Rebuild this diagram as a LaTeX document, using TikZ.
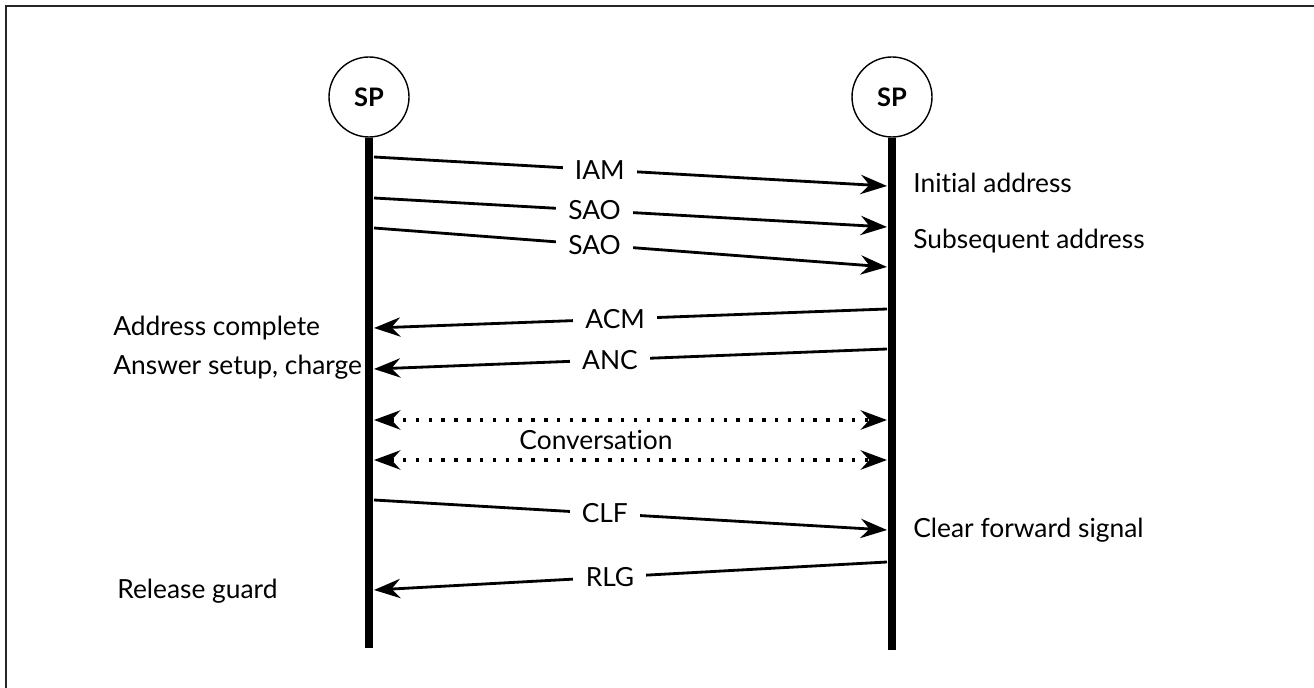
\documentclass[tikz,border=0pt]{standalone}
\usepackage{fontspec}
\setmainfont{Lato}[Ligatures=NoCommon]
\usetikzlibrary{arrows.meta,positioning}

\begin{document}
\begin{tikzpicture}[
  x=0.02cm, y=-0.02cm,
  sp/.style={circle, draw, line width=0.8pt, minimum size=80*0.02cm, inner sep=0pt, font=\bfseries\fontsize{14.5}{16}\selectfont},
  life/.style={line width=4.6pt},
  tip/.style={-{Stealth[length=15pt, width=11pt, inset=5pt]}},
  msg/.style={tip, line width=1.6pt},
  talk/.style={{Stealth[length=15pt, width=11pt, inset=5pt]}-{Stealth[length=15pt, width=11pt, inset=5pt]}, line width=2pt, dash pattern=on 2pt off 5.3pt},
  lbl/.style={fill=white, inner xsep=7pt, inner ysep=1pt, font=\fontsize{15}{17}\selectfont},
  note/.style={font=\fontsize{15}{17}\selectfont, anchor=west, inner sep=0pt}
]
\useasboundingbox (0,0) rectangle (1314,688);
\draw[line width=1.1pt, black!85] (6,700) -- (6,6) -- (1330,6);

% the two signalling points and their time lines
\node[sp] (spa) at (369,97) {SP};
\node[sp] (spb) at (892,97) {SP};
\coordinate (enda) at (369,648);
\coordinate (endb) at (892,650);
\draw[life] (spa.south) -- (enda);
\draw[life] (spb.south) -- (endb);

% end points of the messages on each line
\foreach \n/\y in {iam/157, sao1/198, sao2/228, acm/328, anc/369, cva/420, cvb/460, clf/500, rlg/590}
  \coordinate (a-\n) at (374,\y);
\foreach \n/\y in {iam/186, sao1/227, sao2/267, acm/309, anc/349, cva/420, cvb/460, clf/530, rlg/562}
  \coordinate (b-\n) at (887,\y);

% forward messages
\draw[msg] (a-iam) -- node[lbl, pos=0.44] {IAM} (b-iam);
\draw[msg] (a-sao1) -- node[lbl, pos=0.43] {SAO} (b-sao1);
\draw[msg] (a-sao2) -- node[lbl, pos=0.43] {SAO} (b-sao2);
\draw[msg] (a-clf) -- node[lbl, pos=0.45] {CLF} (b-clf);

% backward messages
\draw[msg] (b-acm) -- node[lbl, pos=0.53] {ACM} (a-acm);
\draw[msg] (b-anc) -- node[lbl, pos=0.54] {ANC} (a-anc);
\draw[msg] (b-rlg) -- node[lbl, pos=0.54] {RLG} (a-rlg);

% speech path
\draw[talk] (a-cva) -- (b-cva);
\draw[talk] (a-cvb) -- (b-cvb);
\node[font=\fontsize{15}{17}\selectfont] (conv) at (596,440) {Conversation};

% explanations
\node[note] (n-iam) at (913,183) {Initial address};
\node[note] (n-sao) at (913,241) {Subsequent address};
\node[note] (n-acm) at (113,328) {Address complete};
\node[note] (n-anc) at (113,367) {Answer setup, charge};
\node[note] (n-clf) at (913,530) {Clear forward signal};
\node[note] (n-rlg) at (117,591) {Release guard};
\end{tikzpicture}
\end{document}
